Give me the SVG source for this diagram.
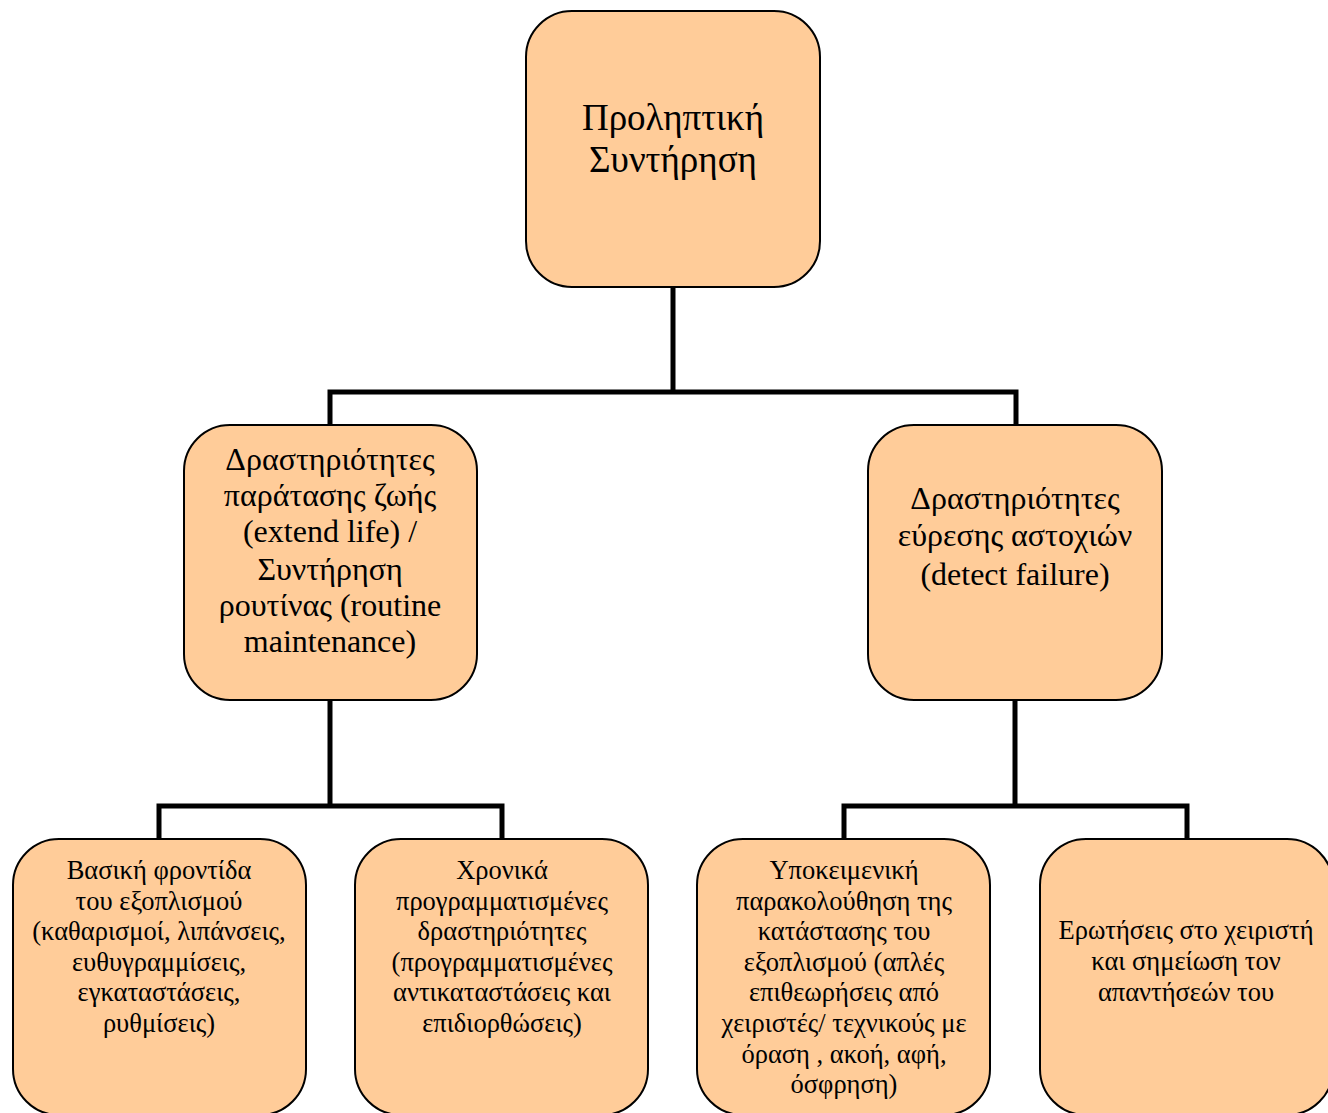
<svg xmlns="http://www.w3.org/2000/svg" width="1328" height="1113" viewBox="0 0 1328 1113">
<style>
.box{fill:#FFCC99;stroke:#000;stroke-width:2}
.t{font-family:"Liberation Serif","Times New Roman",serif;fill:#000;text-anchor:middle}
.t1{font-size:37px}
.t2{font-size:32px}
.t3{font-size:26.5px}
.c{fill:none;stroke:#000;stroke-width:5;stroke-linecap:butt;stroke-linejoin:miter}
</style>
<rect width="1328" height="1113" fill="#fff"/>
<g id="connectors">
<polyline class="c" points="673,287 673,392"/>
<polyline class="c" points="330,425 330,392 1016,392 1016,425"/>
<polyline class="c" points="330,700 330,806"/>
<polyline class="c" points="159,839 159,806 502,806 502,839"/>
<polyline class="c" points="1015,700 1015,806"/>
<polyline class="c" points="844,839 844,806 1187,806 1187,839"/>
</g>
<g id="root">
<rect class="box" x="526" y="11" width="294" height="276" rx="46"/>
<text class="t t1"><tspan x="673" y="130">Προληπτική</tspan><tspan x="673" y="172">Συντήρηση</tspan></text>
</g>
<g id="extend-life">
<rect class="box" x="184" y="425" width="293" height="275" rx="46"/>
<text class="t t2"><tspan x="330" y="470">Δραστηριότητες</tspan><tspan x="330" y="506">παράτασης ζωής</tspan><tspan x="330" y="542">(extend life) /</tspan><tspan x="330" y="580">Συντήρηση</tspan><tspan x="330" y="616">ρουτίνας (routine</tspan><tspan x="330" y="652">maintenance)</tspan></text>
</g>
<g id="detect-failure">
<rect class="box" x="868" y="425" width="294" height="275" rx="46"/>
<text class="t t2"><tspan x="1015" y="509">Δραστηριότητες</tspan><tspan x="1015" y="546">εύρεσης αστοχιών</tspan><tspan x="1015" y="585">(detect failure)</tspan></text>
</g>
<g id="basic-care">
<rect class="box" x="13" y="839" width="293" height="276" rx="46"/>
<text class="t t3"><tspan x="159" y="879">Βασική φροντίδα</tspan><tspan x="159" y="910">του εξοπλισμού</tspan><tspan x="159" y="940">(καθαρισμοί, λιπάνσεις,</tspan><tspan x="159" y="971">ευθυγραμμίσεις,</tspan><tspan x="159" y="1001">εγκαταστάσεις,</tspan><tspan x="159" y="1032">ρυθμίσεις)</tspan></text>
</g>
<g id="scheduled">
<rect class="box" x="355" y="839" width="293" height="276" rx="46"/>
<text class="t t3"><tspan x="502" y="879">Χρονικά</tspan><tspan x="502" y="910">προγραμματισμένες</tspan><tspan x="502" y="940">δραστηριότητες</tspan><tspan x="502" y="971">(προγραμματισμένες</tspan><tspan x="502" y="1001">αντικαταστάσεις και</tspan><tspan x="502" y="1032">επιδιορθώσεις)</tspan></text>
</g>
<g id="subjective">
<rect class="box" x="697" y="839" width="293" height="276" rx="46"/>
<text class="t t3"><tspan x="844" y="879">Υποκειμενική</tspan><tspan x="844" y="910">παρακολούθηση της</tspan><tspan x="844" y="940">κατάστασης του</tspan><tspan x="844" y="971">εξοπλισμού (απλές</tspan><tspan x="844" y="1001">επιθεωρήσεις από</tspan><tspan x="844" y="1032">χειριστές/ τεχνικούς με</tspan><tspan x="844" y="1063">όραση , ακοή, αφή,</tspan><tspan x="844" y="1093">όσφρηση)</tspan></text>
</g>
<g id="questions">
<rect class="box" x="1040" y="839" width="293" height="276" rx="46"/>
<text class="t t3"><tspan x="1186" y="939">Ερωτήσεις στο χειριστή</tspan><tspan x="1186" y="970">και σημείωση τον</tspan><tspan x="1186" y="1001">απαντήσεών του</tspan></text>
</g>
</svg>
